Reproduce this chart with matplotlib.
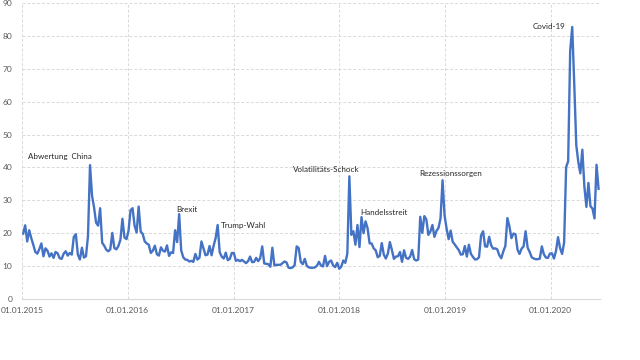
import matplotlib
matplotlib.use("Agg")
import matplotlib.pyplot as plt
import matplotlib.dates as mdates
import pandas as pd
import numpy as np

# Weekly values (Mondays) per year
vix_2015 = [19.9, 22.4, 17.5, 20.9,
            18.5, 16.5, 14.3, 13.8,
            15.2, 16.9, 13.0, 15.4, 14.7,
            12.9, 13.9, 12.5, 14.3,
            13.9, 12.4, 12.2, 13.8,
            14.5, 13.2, 14.0, 13.5, 18.9,
            19.7, 13.5, 12.0, 15.6,
            12.6, 13.0, 19.1, 40.7, 31.4,
            27.8, 23.2, 22.3, 27.6,
            17.1, 16.2, 15.0, 14.5,
            15.1, 20.1, 15.5, 15.1, 16.1,
            18.0, 24.4, 18.7, 18.2]
vix_2016 = [20.7, 27.0, 27.6, 22.3,
            20.2, 28.1, 20.5, 19.8, 17.5,
            16.9, 16.5, 14.0, 14.7,
            16.2, 13.6, 13.2, 15.7,
            14.7, 14.4, 16.3, 13.1, 14.2,
            14.0, 20.9, 17.3, 25.8,
            14.8, 12.7, 12.0, 11.9,
            11.4, 11.6, 11.3, 13.7, 12.0,
            12.5, 17.5, 15.4, 13.3,
            13.5, 16.1, 13.3, 16.2, 18.5,
            22.5, 14.2, 12.9, 12.3,
            14.1, 11.8, 12.2, 14.0]
vix_2017 = [14.0, 11.6, 11.9, 11.5, 11.9,
            11.4, 10.9, 11.5, 12.9,
            11.2, 11.3, 12.5, 11.5,
            12.4, 16.0, 10.8, 10.7,
            10.6, 9.8, 15.6, 10.2, 10.4,
            10.4, 10.4, 10.9, 11.4,
            11.1, 9.5, 9.4, 9.6, 10.3,
            16.0, 15.5, 11.3, 10.6,
            12.2, 10.1, 9.6, 9.5,
            9.5, 9.6, 10.1, 11.3, 10.2,
            9.9, 13.1, 10.0, 11.3,
            11.7, 10.2, 9.7, 11.0]
vix_2018 = [9.2, 9.8, 11.7, 11.0, 13.8,
            37.3, 19.5, 20.6, 16.5,
            22.5, 15.8, 24.9, 20.0,
            23.6, 21.5, 16.9, 16.9, 15.4,
            14.8, 12.7, 13.1, 17.0,
            13.5, 12.3, 13.8, 17.3,
            14.9, 12.2, 12.9, 13.0, 14.3,
            11.3, 14.8, 12.5, 12.2,
            12.9, 14.9, 12.1, 11.7,
            12.0, 25.0, 20.1, 25.2, 24.2,
            19.5, 20.5, 22.5, 18.9,
            20.7, 21.6, 24.5, 36.1, 25.4]
vix_2019 = [21.4, 18.2, 20.8, 17.4,
            16.6, 15.7, 14.9, 13.5,
            13.6, 16.1, 12.9, 16.5,
            13.7, 12.8, 12.0, 12.1, 12.7,
            19.3, 20.6, 16.0, 15.9,
            18.9, 16.3, 15.3, 15.4,
            15.1, 13.3, 12.4, 14.5, 16.1,
            24.6, 22.1, 18.5, 19.9,
            19.7, 15.0, 13.7, 15.3, 16.0,
            20.6, 15.6, 14.3, 12.7,
            12.3, 12.1, 12.1, 12.3,
            16.0, 13.6, 12.6, 12.5, 13.8]
vix_2020 = [13.9, 12.3, 14.6, 18.8,
            15.5, 13.7, 17.1, 40.1,
            41.9, 75.5, 82.7, 65.5, 46.8,
            41.7, 38.2, 45.4, 34.2,
            28.0, 35.3, 28.2, 27.5,
            24.5, 40.8, 33.5]

years = [2015, 2016, 2017, 2018, 2019, 2020]
year_values = [vix_2015, vix_2016, vix_2017, vix_2018, vix_2019, vix_2020]

labels = ["Abwertung  China", "Brexit", "Trump-Wahl", "Volatilitäts-Schock",
          "Handelsstreit", "Rezessionssorgen", "Covid-19"]
label_dates = ["2015-01-22", "2016-06-18", "2016-11-17", "2017-07-26",
               "2018-03-15", "2018-10-06", "2019-11-01"]
label_values = [43.2, 27.3, 22.5, 39.3, 26.3, 38.2, 82.9]

tick_dates = ["2015-01-01", "2016-01-01", "2017-01-01", "2018-01-01",
              "2019-01-01", "2020-01-01"]

dates = []
values = []
for y, vals in zip(years, year_values):
    d = pd.date_range(f"{y}-01-01", periods=len(vals), freq="W-MON")
    dates.extend(d)
    values.extend(vals)

plt.rcParams['font.family'] = ['Lato', 'DejaVu Sans']

fig = plt.figure(figsize=(6.4, 3.6), dpi=100)
ax = fig.add_axes([22/640, 1 - 299/360, (600-22)/640, (299-3)/360])

ax.plot(dates, values, color="#4472C4", linewidth=1.7, solid_joinstyle="round")

ax.set_ylim(0, 90)
ax.set_yticks(np.arange(0, 91, 10))
ax.set_xlim(pd.Timestamp("2015-01-01"), pd.Timestamp("2020-06-20"))
ax.set_xticks([pd.Timestamp(t) for t in tick_dates])
ax.xaxis.set_major_formatter(mdates.DateFormatter("%d.%m.%Y"))

ax.grid(True, color="#d9d9d9", linestyle=(0, (3, 2)), linewidth=0.7)
ax.set_axisbelow(True)
for s in ["top", "right", "left"]:
    ax.spines[s].set_visible(False)
ax.spines["bottom"].set_color("#d9d9d9")
ax.spines["bottom"].set_linewidth(0.8)
ax.tick_params(axis="both", length=0, labelsize=6.0, colors="#595959")
ax.tick_params(axis="y", pad=7)
ax.tick_params(axis="x", pad=6)

for t, d, v in zip(labels, label_dates, label_values):
    ax.text(pd.Timestamp(d), v, t, fontsize=5.8, color="#262626",
            ha="left", va="center")

fig.savefig("out.png", dpi=100)
